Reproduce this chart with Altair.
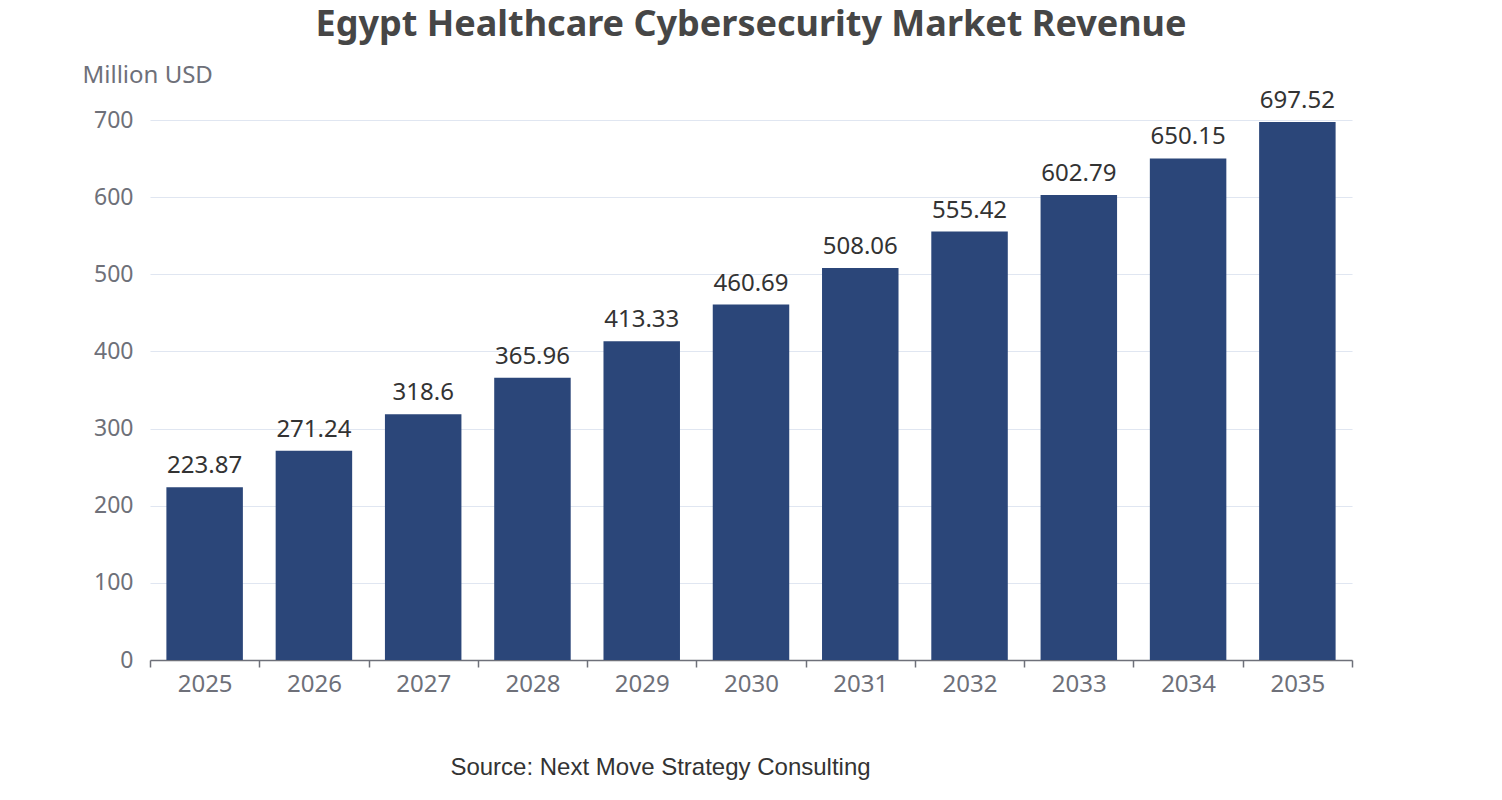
import altair as alt
import pandas as pd

years = ["2025", "2026", "2027", "2028", "2029", "2030", "2031", "2032", "2033", "2034", "2035"]
revenue = [223.87, 271.24, 318.6, 365.96, 413.33, 460.69, 508.06, 555.42, 602.79, 650.15, 697.52]
labels = ["223.87", "271.24", "318.6", "365.96", "413.33", "460.69", "508.06", "555.42", "602.79", "650.15", "697.52"]

df = pd.DataFrame({"year": years, "revenue": revenue, "label": labels})

x = alt.X("year:N", sort=years,
          scale=alt.Scale(paddingInner=0, paddingOuter=0),
          axis=alt.Axis(title="Source: Next Move Strategy Consulting", labelAngle=0,
                        labelFont="Noto Sans", labelFontSize=24, labelColor="#6e7079",
                        labelPadding=5, tickBand="extent", tickSize=7, tickColor="#6e7079",
                        domainColor="#6e7079", domainWidth=1.5, tickWidth=1.5,
                        grid=False,
                        titleFont="Liberation Sans", titleFontSize=24, titleFontWeight="normal",
                        titleColor="#333333", titleX=510, titleY=114, titleBaseline="alphabetic",
                        titleAlign="center"))
y = alt.Y("revenue:Q",
          scale=alt.Scale(domain=[0, 700], nice=False),
          axis=alt.Axis(title="Million USD", values=[0, 100, 200, 300, 400, 500, 600, 700],
                        labelFont="Noto Sans", labelFontSize=23, labelColor="#6e7079",
                        labelPadding=17, tickSize=0, domain=False,
                        gridColor="#e0e6f1", gridWidth=1.2,
                        titleFont="Noto Sans", titleFontSize=24, titleFontWeight="normal",
                        titleColor="#6e7079", titleAngle=0, titleAlign="left",
                        titleBaseline="alphabetic", titleX=-68, titleY=-38))

bars = alt.Chart(df).mark_bar(color="#2b4679", width=alt.RelativeBandSize(0.7)).encode(x=x, y=y)
text = alt.Chart(df).mark_text(baseline="bottom", dy=-9, font="Noto Sans", fontSize=24,
                               color="#333333").encode(x=alt.X("year:N", sort=years), y="revenue:Q", text="label:N")

chart = alt.layer(bars, text).properties(
    width=1202, height=540,
    title=alt.TitleParams("Egypt Healthcare Cybersecurity Market Revenue", font="Noto Sans",
                          fontSize=36, fontWeight="bold", color="#464646", anchor="middle",
                          frame="group", offset=19),
    autosize=alt.AutoSizeParams(type="none"),
    padding={"left": 142, "top": 112, "right": 140, "bottom": 120},
).configure_view(stroke=None)

chart.save("out.html", embed_options={"renderer": "svg", "actions": False})
